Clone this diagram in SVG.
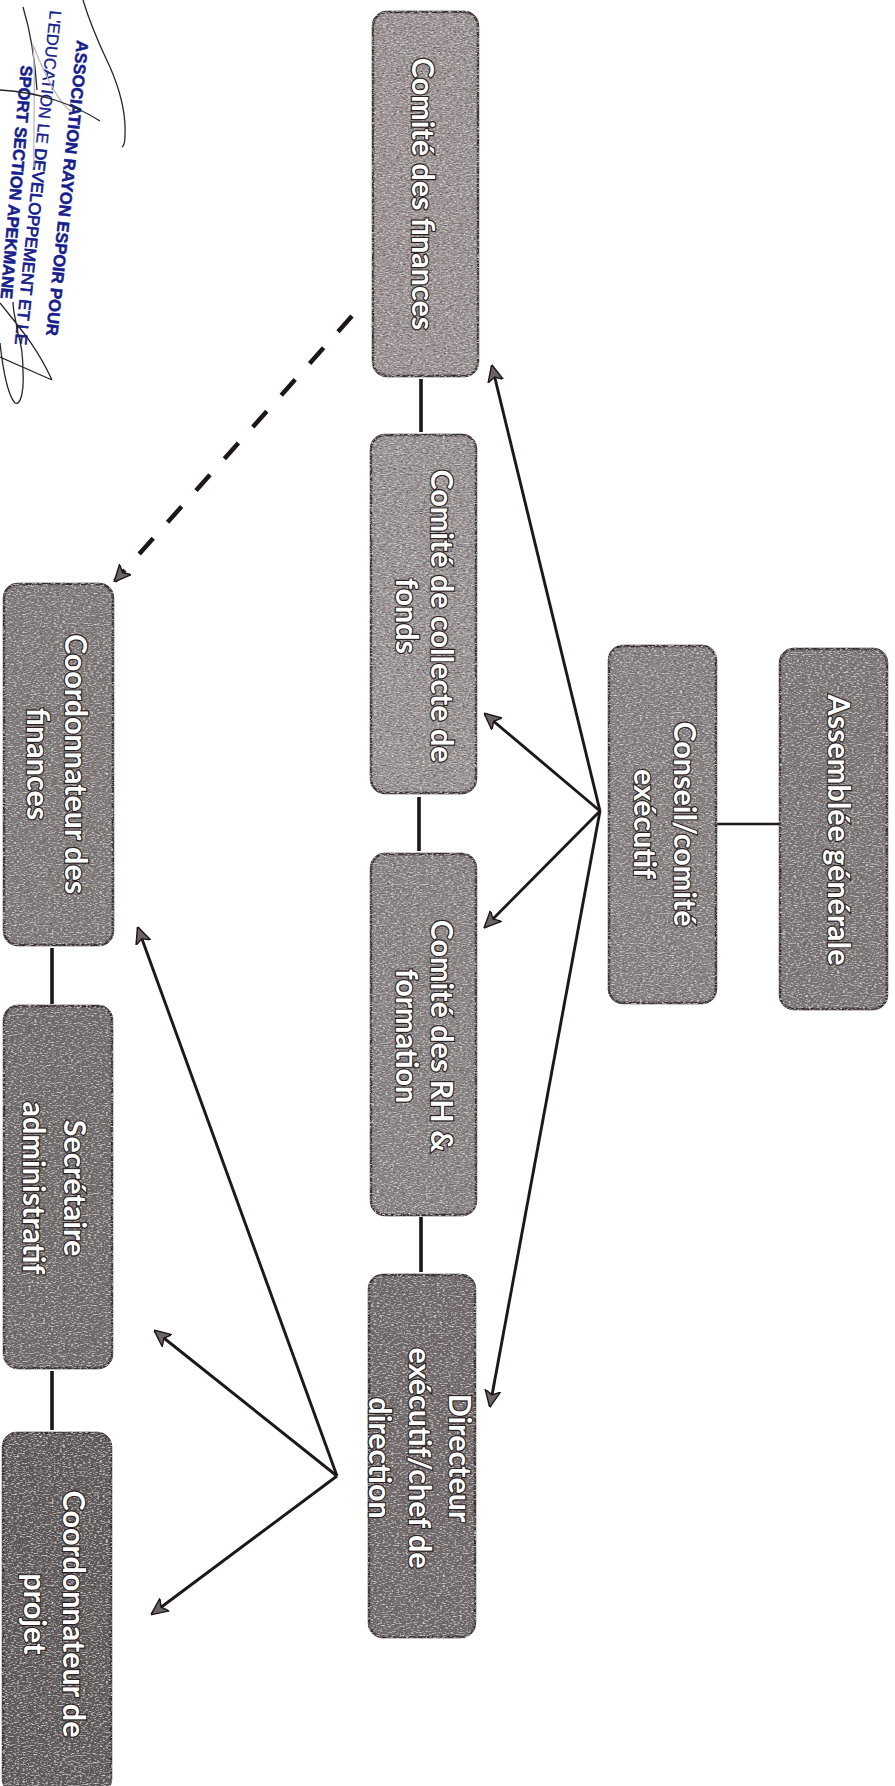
<svg xmlns="http://www.w3.org/2000/svg" width="895" height="1786" viewBox="0 0 895 1786">
<style>
.t{font-family:"Lato","Open Sans","Liberation Sans",sans-serif;font-weight:700;font-size:30.5px;fill:#fff;text-anchor:middle;stroke:#2a2222;stroke-width:2.4px;paint-order:stroke;}
.n{stroke:#322a2a;stroke-width:2.4;filter:url(#g);}
.c{stroke:#1d1718;stroke-width:3.6;fill:none;}
.a{stroke:#1d1718;stroke-width:2.9;fill:none;marker-end:url(#ah);}
.s{font-family:"Liberation Sans",sans-serif;font-weight:bold;font-size:16.6px;fill:#16208c;stroke:#16208c;stroke-width:.5;}
.p{stroke:#2a2526;stroke-width:1.3;fill:none;}
</style>
<defs>
<marker id="ah" viewBox="0 0 12 12" refX="11" refY="6" markerWidth="17" markerHeight="17" markerUnits="userSpaceOnUse" orient="auto"><path d="M0 .5L12 6L0 11.5L3 6Z" fill="#6b6465" stroke="#1d1718" stroke-width="1"/></marker>
<filter id="g" x="-5%" y="-5%" width="110%" height="110%"><feTurbulence type="fractalNoise" baseFrequency="0.3 0.95" numOctaves="2" seed="4" result="n"/><feColorMatrix in="n" type="matrix" values="0 0 0 0 0.15 0 0 0 0 0.13 0 0 0 0 0.13 0 0 0 2.6 -1.05" result="d"/><feComposite in="d" in2="SourceGraphic" operator="in" result="di"/><feTurbulence type="fractalNoise" baseFrequency="0.35 0.9" numOctaves="2" seed="11" result="m"/><feColorMatrix in="m" type="matrix" values="0 0 0 0 0.85 0 0 0 0 0.82 0 0 0 0 0.82 0 0 0 2.2 -1.12" result="l"/><feComposite in="l" in2="SourceGraphic" operator="in" result="li"/><feMerge><feMergeNode in="SourceGraphic"/><feMergeNode in="di"/><feMergeNode in="li"/></feMerge></filter>
</defs>
<rect width="895" height="1786" fill="#fff"/>
<g id="connectors">
<path class="c" d="M421 379V432M419 797V851M421 1217V1272M52 948V1004M52 1371V1430"/>
<path class="c" style="stroke-width:2.6" d="M716 824H780"/>
<path class="a" d="M600 811L492 366"/>
<path class="a" d="M600 811L485 714"/>
<path class="a" d="M600 811L485 927"/>
<path class="a" d="M600 811L490 1406"/>
<path class="a" d="M337 1476L138 928"/>
<path class="a" d="M337 1476L155 1331"/>
<path class="a" d="M337 1476L152 1614"/>
<path class="a" d="M352 316L115 581" stroke-dasharray="21 21.6" style="stroke-width:4.5"/>
</g>
<g id="n1"><rect class="n" x="373" y="12" width="105" height="364" rx="14" fill="#a39a9a"/><text class="t" transform="translate(412 194) rotate(90)">Comité des finances</text></g>
<g id="n2"><rect class="n" x="371" y="435" width="105" height="358" rx="14" fill="#a19a9a"/><text class="t" transform="translate(431 616) rotate(90)"><tspan x="0" y="0">Comité de collecte de</tspan><tspan x="0" dy="35">fonds</tspan></text></g>
<g id="n3"><rect class="n" x="371" y="854" width="105" height="361" rx="14" fill="#8e8888"/><text class="t" transform="translate(431 1036) rotate(90)"><tspan x="0" y="0">Comité des RH &amp;</tspan><tspan x="0" dy="35">formation</tspan></text></g>
<g id="n4"><rect class="n" x="369" y="1275" width="106" height="362" rx="14" fill="#6f6869"/><text class="t" transform="translate(449 1458) rotate(90)"><tspan x="0" y="0">Directeur</tspan><tspan x="0" dy="40">exécutif/chef de</tspan><tspan x="0" dy="40">direction</tspan></text></g>
<g id="n5"><rect class="n" x="609" y="646" width="107" height="357" rx="14" fill="#8b8585"/><text class="t" transform="translate(674 824) rotate(90)"><tspan x="0" y="0">Conseil/comité</tspan><tspan x="0" dy="40">exécutif</tspan></text></g>
<g id="n6"><rect class="n" x="780" y="649" width="107" height="360" rx="14" fill="#7e7979"/><text class="t" transform="translate(828 830) rotate(90)">Assemblée générale</text></g>
<g id="n7"><rect class="n" x="4" y="584" width="109" height="361" rx="14" fill="#827c7c"/><text class="t" transform="translate(65 764) rotate(90)"><tspan x="0" y="0">Coordonnateur des</tspan><tspan x="0" dy="38">finances</tspan></text></g>
<g id="n8"><rect class="n" x="4" y="1006" width="108" height="362" rx="14" fill="#6f6a6a"/><text class="t" transform="translate(64 1188) rotate(90)"><tspan x="0" y="0">Secrétaire</tspan><tspan x="0" dy="41">administratif</tspan></text></g>
<g id="n9"><rect class="n" x="3" y="1433" width="108" height="360" rx="14" fill="#585354"/><text class="t" transform="translate(63 1614) rotate(90)"><tspan x="0" y="0">Coordonnateur de</tspan><tspan x="0" dy="39">projet</tspan></text></g>
<g id="stamp">
<text class="s" transform="translate(77 40) rotate(96)">ASSOCIATION RAYON ESPOIR POUR</text>
<text class="s" style="font-weight:normal;stroke-width:.3" transform="translate(50 10) rotate(96)">L'EDUCATION LE <tspan style="stroke-width:.75">DEVELOPPEMENT ET LE</tspan></text>
<text class="s" transform="translate(21 65) rotate(95)">SPORT SECTION APEKMANE</text>
<path class="p" d="M83 0C92 30 102 50 110 67C120 90 126 115 125 135C125 142 124 146 122 147"/>
<path class="p" d="M23 7C30 30 35 60 37 90"/>
<path class="p" style="stroke:#bcb8b8" d="M33 45C36 80 33 130 34 167M33 45C45 75 60 105 72 112"/>
<path class="p" d="M0 90C40 92 75 105 100 121"/>
<path class="p" d="M0 303C18 326 36 345 52 380M0 357L52 380M0 343C3 370 8 395 15 403C21 406 24 390 23 373C23 358 22 345 18 334C16 320 13 312 13 302"/>
</g>
</svg>
